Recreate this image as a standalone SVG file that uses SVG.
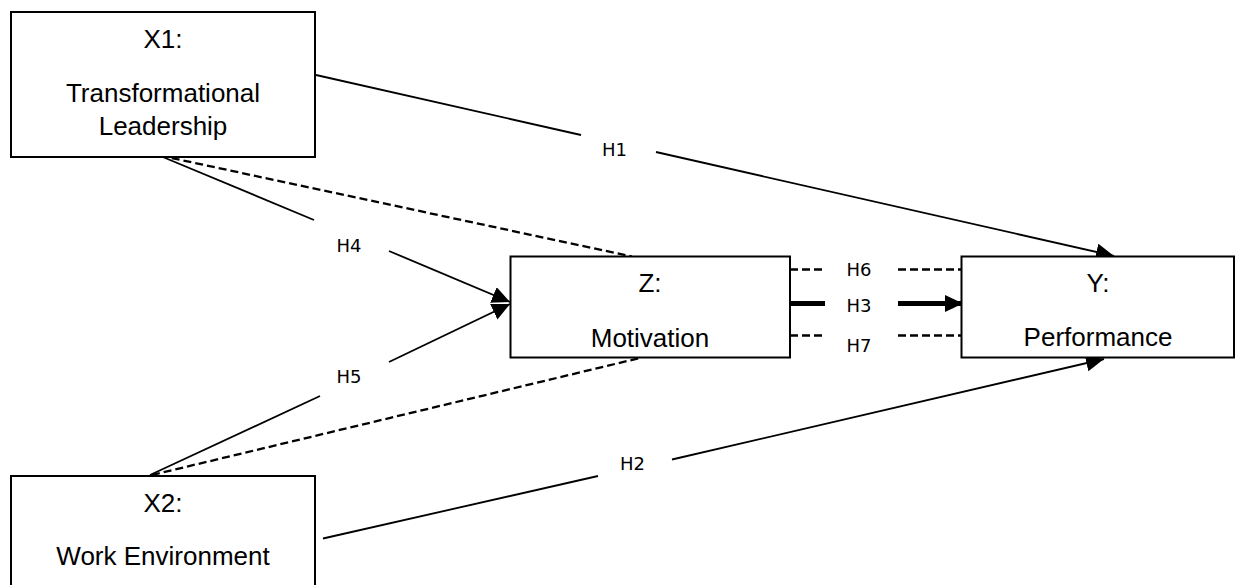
<svg xmlns="http://www.w3.org/2000/svg" width="1239" height="585" viewBox="0 0 1239 585">
  <style>
    .box { fill: #ffffff; stroke: #000000; stroke-width: 2; }
    .ntext { font-family: "Liberation Sans", Arial, sans-serif; font-size: 26px; fill: #000000; text-anchor: middle; }
    .lbl { font-family: "DejaVu Sans", Verdana, sans-serif; font-size: 18px; fill: #000000; text-anchor: middle; }
    .solid { fill: none; stroke: #000000; stroke-width: 1.8; }
    .thick { fill: none; stroke: #000000; stroke-width: 5; }
    .dash { fill: none; stroke: #000000; stroke-width: 2.3; stroke-dasharray: 8 4; }
  </style>
  <defs>
    <marker id="arrow" markerUnits="userSpaceOnUse" markerWidth="19" markerHeight="18" refX="18" refY="8.5" orient="auto">
      <path d="M0,0 L18,8.5 L0,17 Z" fill="#000000"/>
    </marker>
  </defs>

  <rect width="1239" height="585" fill="#ffffff"/>

  <!-- Connectors -->
  <g id="connectors">
    <!-- H1: X1 -> Y -->
    <line class="solid" x1="316" y1="75" x2="581" y2="135"/>
    <line class="solid" x1="656" y1="152" x2="1114" y2="256" marker-end="url(#arrow)"/>
    <!-- H2: X2 -> Y -->
    <line class="solid" x1="323" y1="538.5" x2="598" y2="476"/>
    <line class="solid" x1="672" y1="459.5" x2="1104" y2="359" marker-end="url(#arrow)"/>
    <!-- H4: X1 -> Z -->
    <line class="solid" x1="158" y1="155" x2="314" y2="220"/>
    <line class="solid" x1="389" y1="251" x2="510" y2="302" marker-end="url(#arrow)"/>
    <!-- H5: X2 -> Z -->
    <line class="solid" x1="150" y1="475" x2="320" y2="396"/>
    <line class="solid" x1="389" y1="362" x2="510" y2="304" marker-end="url(#arrow)"/>
    <!-- mediated paths through Z -->
    <line class="dash" x1="160" y1="155.5" x2="632" y2="256.5"/>
    <line class="dash" x1="152" y1="475" x2="642" y2="357.5"/>
    <!-- H6 -->
    <line class="dash" x1="790" y1="269.5" x2="825" y2="269.5"/>
    <line class="dash" x1="898" y1="269.5" x2="962" y2="269.5"/>
    <!-- H3: Z -> Y -->
    <line class="thick" x1="790" y1="303.5" x2="825" y2="303.5"/>
    <line class="thick" x1="898" y1="303.5" x2="963" y2="303.5" marker-end="url(#arrow)"/>
    <!-- H7 -->
    <line class="dash" x1="790" y1="335.5" x2="825" y2="335.5"/>
    <line class="dash" x1="898" y1="335.5" x2="962" y2="335.5"/>

    <text class="lbl" x="614.5" y="155.5">H1</text>
    <text class="lbl" x="632.5" y="470">H2</text>
    <text class="lbl" x="349" y="251.5">H4</text>
    <text class="lbl" x="349" y="382.5">H5</text>
    <text class="lbl" x="859" y="276">H6</text>
    <text class="lbl" x="859" y="311.5">H3</text>
    <text class="lbl" x="859" y="351.5">H7</text>
  </g>

  <g id="x1">
    <rect class="box" x="11" y="12" width="304" height="145"/>
    <text class="ntext" x="163" y="47.5">X1:</text>
    <text class="ntext" x="163" y="101.5">Transformational</text>
    <text class="ntext" x="163" y="135">Leadership</text>
  </g>

  <g id="x2">
    <rect class="box" x="11" y="476" width="304" height="115"/>
    <text class="ntext" x="163" y="511.5">X2:</text>
    <text class="ntext" x="163" y="565">Work Environment</text>
  </g>

  <g id="z">
    <rect class="box" x="510.5" y="256.5" width="279.5" height="101"/>
    <text class="ntext" x="650" y="291.5">Z:</text>
    <text class="ntext" x="650" y="346.5">Motivation</text>
  </g>

  <g id="y">
    <rect class="box" x="961.5" y="256.5" width="272.5" height="101"/>
    <text class="ntext" x="1098" y="291.5">Y:</text>
    <text class="ntext" x="1098" y="346">Performance</text>
  </g>
</svg>
